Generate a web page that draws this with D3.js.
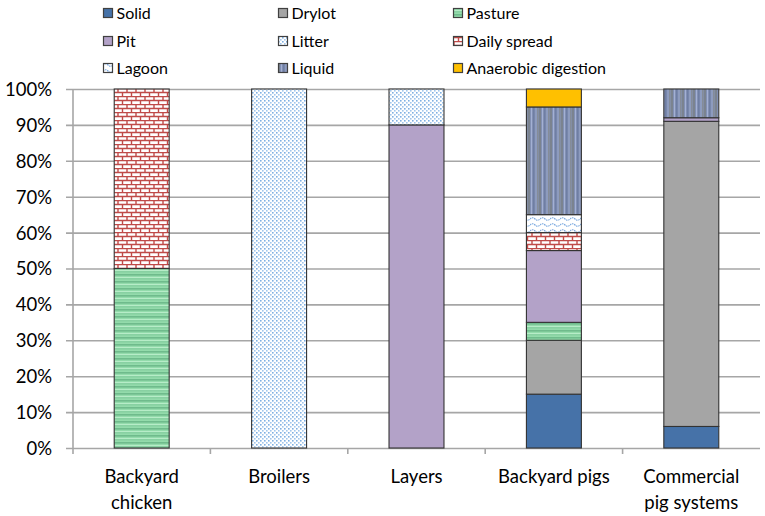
<!DOCTYPE html>
<html>
<head>
<meta charset="utf-8">
<script src="https://cdn.jsdelivr.net/npm/d3@7"></script>
<style>
  body { margin: 0; background: #fff; }
  text { font-family: Lato, "Open Sans", sans-serif; fill: #000; }
</style>
</head>
<body>
<div id="chart"></div>
<script>
// categories along x (line-broken labels)
const categories = ["Backyard chicken", "Broilers", "Layers", "Backyard pigs", "Commercial pig systems"];
const catLines = [["Backyard", "chicken"], ["Broilers"], ["Layers"], ["Backyard pigs"], ["Commercial", "pig systems"]];

// manure systems, bottom to top of stack
const systems = ["Solid", "Drylot", "Pasture", "Pit", "Litter", "Daily spread", "Lagoon", "Liquid", "Anaerobic digestion"];

// share (%) of each system per category, same order as categories
const solid    = [0, 0, 0, 15, 6];
const drylot   = [0, 0, 0, 15, 85];
const pasture  = [50, 0, 0, 5, 0];
const pit      = [0, 0, 90, 20, 1];
const litter   = [0, 100, 10, 0, 0];
const daily    = [50, 0, 0, 5, 0];
const lagoon   = [0, 0, 0, 5, 0];
const liquid   = [0, 0, 0, 30, 8];
const anaerob  = [0, 0, 0, 5, 0];

const yTicks = [0, 10, 20, 30, 40, 50, 60, 70, 80, 90, 100];

const series = [solid, drylot, pasture, pit, litter, daily, lagoon, liquid, anaerob];
const rows = categories.map((c, i) => {
  const r = {cat: c};
  systems.forEach((s, j) => r[s] = series[j][i]);
  return r;
});

const W = 765, H = 516;
const plotL = 73, plotR = 760, plotT = 89, plotB = 448;

const svg = d3.select("#chart").append("svg")
    .attr("width", W).attr("height", H);

// ---- patterns ----
const defs = svg.append("defs");

let p = defs.append("pattern").attr("id", "p-pasture")
    .attr("patternUnits", "userSpaceOnUse").attr("width", 6).attr("height", 7);
p.append("rect").attr("width", 6).attr("height", 7).attr("fill", "#93dbab");
p.append("rect").attr("y", 1).attr("width", 6).attr("height", 1.6).attr("fill", "#6fbb8c");
p.append("rect").attr("y", 4).attr("width", 6).attr("height", 1).attr("fill", "#b7ecc8");
p.append("rect").attr("y", 5.5).attr("width", 6).attr("height", 0.8).attr("fill", "#7ec79a");

p = defs.append("pattern").attr("id", "p-litter")
    .attr("patternUnits", "userSpaceOnUse").attr("width", 4).attr("height", 4);
p.append("rect").attr("width", 4).attr("height", 4).attr("fill", "#ffffff");
p.append("rect").attr("width", 1.6).attr("height", 1.6).attr("fill", "#7fb0e2");
p.append("rect").attr("x", 2).attr("y", 2).attr("width", 1.6).attr("height", 1.6).attr("fill", "#a3c7ec");

p = defs.append("pattern").attr("id", "p-daily")
    .attr("patternUnits", "userSpaceOnUse").attr("width", 9).attr("height", 8);
p.append("rect").attr("width", 9).attr("height", 8).attr("fill", "#ffffff");
p.append("path")
    .attr("d", "M0,0.5H9M0,4.5H9M1,0.5V4.5M5.5,4.5V8")
    .attr("stroke", "#bf4a48").attr("stroke-width", 1.4).attr("fill", "none");

p = defs.append("pattern").attr("id", "p-lagoon")
    .attr("patternUnits", "userSpaceOnUse").attr("width", 10).attr("height", 6);
p.append("rect").attr("width", 10).attr("height", 6).attr("fill", "#ffffff");
p.append("path")
    .attr("d", "M0,3 Q2.5,0.5 5,3 T10,3")
    .attr("stroke", "#7aa9e0").attr("stroke-width", 1.2).attr("fill", "none")
    .attr("stroke-dasharray", "1.5,0.8");

p = defs.append("pattern").attr("id", "p-liquid")
    .attr("patternUnits", "userSpaceOnUse").attr("width", 11).attr("height", 6);
p.append("rect").attr("width", 11).attr("height", 6).attr("fill", "#8290b3");
p.append("rect").attr("x", 0).attr("width", 2).attr("height", 6).attr("fill", "#7b838f");
p.append("rect").attr("x", 3).attr("width", 1).attr("height", 6).attr("fill", "#a3b0d4");
p.append("rect").attr("x", 5).attr("width", 1.5).attr("height", 6).attr("fill", "#6f7ea4");
p.append("rect").attr("x", 7.5).attr("width", 1).attr("height", 6).attr("fill", "#98a6ca");
p.append("rect").attr("x", 9).attr("width", 1.5).attr("height", 6).attr("fill", "#858c98");

const fills = {
  "Solid": "#4672a8",
  "Drylot": "#a5a5a5",
  "Pasture": "url(#p-pasture)",
  "Pit": "#b3a2c8",
  "Litter": "url(#p-litter)",
  "Daily spread": "url(#p-daily)",
  "Lagoon": "url(#p-lagoon)",
  "Liquid": "url(#p-liquid)",
  "Anaerobic digestion": "#ffc000"
};
const color = d3.scaleOrdinal().domain(systems).range(systems.map(s => fills[s]));

// ---- scales ----
const xCat = d3.scaleBand().domain(categories).range([plotL, plotR]);
const x = d3.scaleBand().domain(categories).range([plotL, plotR])
    .paddingInner(0.6).paddingOuter(0.3);
const y = d3.scaleLinear().domain([0, 100]).range([plotB, plotT]);

// gridlines + y labels
const yAxis = svg.append("g")
    .attr("transform", "translate(" + plotL + ",0)")
    .call(d3.axisLeft(y).tickValues(yTicks).tickSize(-(plotR - plotL)).tickPadding(0)
      .tickFormat(d => d + "%"));
yAxis.select(".domain").remove();
yAxis.selectAll(".tick line")
    .attr("x1", -7).attr("stroke", "#a6a6a6").attr("stroke-width", 1.6);
yAxis.selectAll(".tick text")
    .attr("x", -21).attr("font-size", 18.5).attr("dy", "0.35em")
    .style("font-family", "Lato, sans-serif");

// y axis line
svg.append("line")
    .attr("x1", plotL).attr("x2", plotL).attr("y1", y(100)).attr("y2", plotB)
    .attr("stroke", "#a6a6a6").attr("stroke-width", 1.6);

// x category boundary ticks
svg.append("g").selectAll("line")
  .data(categories)
  .join("line")
    .attr("x1", d => xCat(d)).attr("x2", d => xCat(d))
    .attr("y1", plotB).attr("y2", plotB + 6)
    .attr("stroke", "#a6a6a6").attr("stroke-width", 1.6);

// ---- stacked bars ----
const stacked = d3.stack().keys(systems)(rows);

svg.append("g").selectAll("g")
  .data(stacked)
  .join("g")
    .attr("fill", d => color(d.key))
  .selectAll("rect")
  .data(d => d.filter(v => v[1] - v[0] > 0))
  .join("rect")
    .attr("x", d => x(d.data.cat))
    .attr("y", d => y(d[1]))
    .attr("width", x.bandwidth())
    .attr("height", d => y(d[0]) - y(d[1]))
    .attr("stroke", "#333")
    .attr("stroke-width", 1.1);

// ---- x labels ----
const xl = svg.append("g").selectAll("text")
  .data(categories)
  .join("text")
    .attr("text-anchor", "middle")
    .attr("font-size", 18.5)
    .attr("x", d => xCat(d) + xCat.bandwidth() / 2)
    .attr("y", 483);
xl.selectAll("tspan")
  .data((d, i) => catLines[i])
  .join("tspan")
    .attr("x", function() { return this.parentNode.getAttribute("x"); })
    .attr("dy", (d, i) => i === 0 ? 0 : 26)
    .text(d => d);

// ---- legend (3 columns) ----
const legColX = [103, 278, 453];
const legRowY = [13, 41, 68];
const leg = svg.append("g").selectAll("g")
  .data(systems)
  .join("g")
    .attr("transform", (d, i) => "translate(" + legColX[i % 3] + "," + legRowY[Math.floor(i / 3)] + ")");
leg.append("rect")
    .attr("x", 0.5).attr("y", -4.5).attr("width", 9).attr("height", 9)
    .attr("fill", d => color(d)).attr("stroke", "#404040").attr("stroke-width", 1.2);
leg.append("text")
    .attr("x", 13.5).attr("dy", "0.35em")
    .attr("font-size", 16)
    .text(d => d);
</script>
</body>
</html>
